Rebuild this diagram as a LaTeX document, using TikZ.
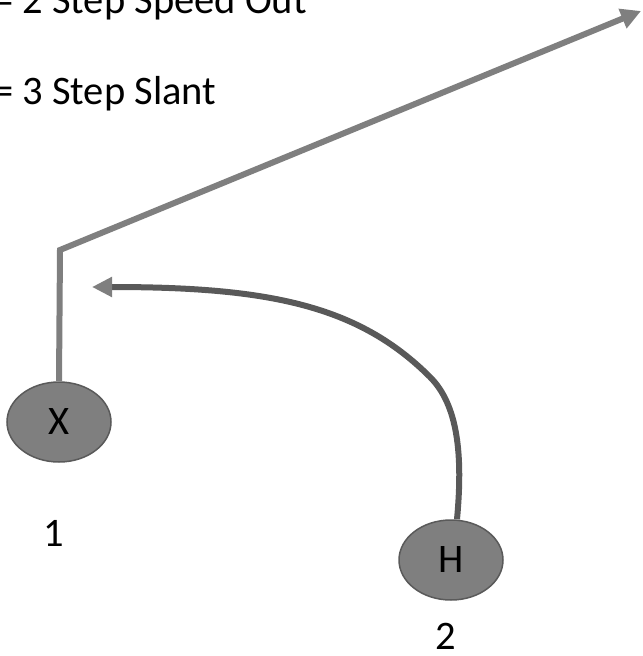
\documentclass[tikz,border=0pt]{standalone}
\usepackage{fontspec}
\setmainfont{Carlito}
\usetikzlibrary{arrows.meta,shapes.geometric}
\definecolor{routegray}{HTML}{7F7F7F}
\definecolor{curvegray}{HTML}{595959}
\definecolor{playerfill}{HTML}{7F7F7F}
\definecolor{playeredge}{HTML}{5A5A5A}
\tikzset{
  bigtext/.style={font=\fontsize{40.5bp}{48bp}\selectfont, inner sep=0pt, text=black},
  player/.style={ellipse, draw=playeredge, line width=1.5bp, fill=playerfill,
    minimum width=104bp, minimum height=80bp, inner sep=0pt,
    font=\fontsize{40.5bp}{48bp}\selectfont},
  route/.style={draw=routegray, line width=6bp, -{Triangle[length=20bp,width=20bp]}},
  curveroute/.style={draw=curvegray, line width=6bp,
    -{Triangle[length=20bp,width=19bp,color=routegray]}}
}
\begin{document}
\begin{tikzpicture}[x=1bp,y=-1bp]
\useasboundingbox (0,0) rectangle (643,656);
% legend
\node[bigtext, anchor=base west] (l1) at (-7,13.5) {= 2 Step Speed Out};
\node[bigtext, anchor=base west] (l2) at (-7,105) {= 3 Step Slant};
% players
\node[player] (X) at (59,422) {X};
\node[player] (H) at (451,560) {H};
\node[bigtext] (n1) at (53.5,533) {1};
\node[bigtext] (n2) at (446,636) {2};
% route of X
\coordinate (corner) at (60,250);
\coordinate (tip1) at (641,11);
\draw[route] (X.north) -- (corner) -- (tip1);
% route of H
\coordinate (bend) at (430,377);
\coordinate (tip2) at (92,287);
\draw[curveroute] ([xshift=6bp]H.north) .. controls (463,455) and (458,405) .. (bend)
  .. controls (358,305) and (268,287) .. (tip2);
\end{tikzpicture}
\end{document}
